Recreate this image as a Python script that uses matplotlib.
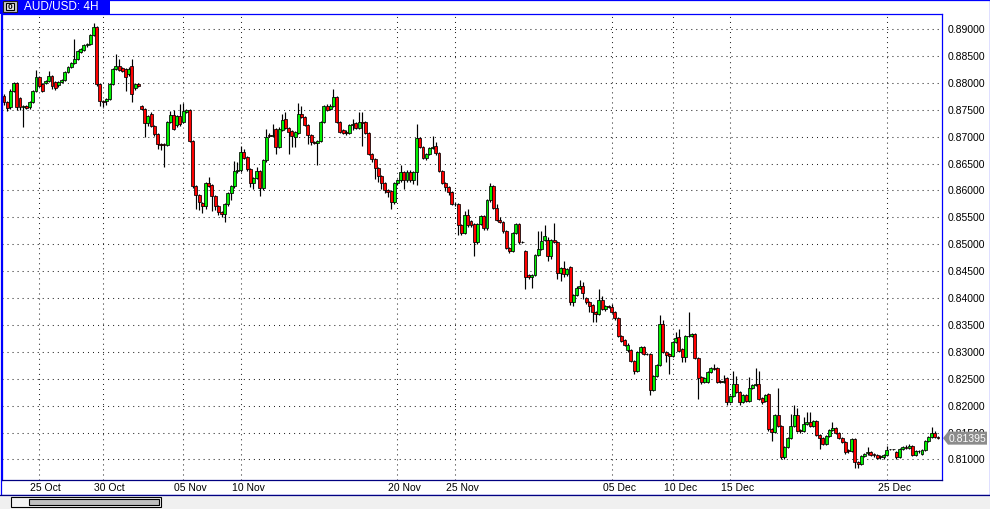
import matplotlib
matplotlib.use('Agg')
import matplotlib.pyplot as plt
from matplotlib.patches import Rectangle, Polygon
import matplotlib.transforms as mtransforms
import numpy as np

plt.rcParams['lines.scale_dashes'] = False
FONT = ['Liberation Sans', 'DejaVu Sans']

# ---- data (prices in units of 0.0001) ----
opens = [
    8775, 8764, 8755, 8785, 8800, 8772, 8755, 8756, 8755, 8764,
    8785, 8811, 8798, 8800, 8803, 8813, 8801, 8796, 8801, 8805,
    8820, 8829, 8837, 8844, 8857, 8861, 8870, 8872, 8889, 8904,
    8798, 8766, 8766, 8770, 8798, 8826, 8831, 8827, 8826, 8816,
    8831, 8790, 8798, 8757, 8751, 8725, 8742, 8720, 8705, 8686,
    8686, 8685, 8727, 8740, 8722, 8738, 8727, 8746, 8749, 8692,
    8608, 8591, 8577, 8571, 8614, 8610, 8590, 8571, 8560, 8556,
    8575, 8595, 8608, 8636, 8638, 8671, 8662, 8640, 8614, 8623,
    8636, 8604, 8656, 8703, 8701, 8714, 8681, 8712, 8733, 8716,
    8710, 8699, 8707, 8742, 8736, 8722, 8703, 8690, 8689, 8692,
    8727, 8757, 8751, 8757, 8774, 8727, 8712, 8708, 8707, 8722,
    8725, 8716, 8727, 8727, 8707, 8668, 8658, 8642, 8627, 8614,
    8601, 8599, 8578, 8614, 8619, 8634, 8619, 8634, 8619, 8634,
    8697, 8681, 8660, 8668, 8679, 8682, 8669, 8636, 8614, 8606,
    8597, 8575, 8575, 8536, 8521, 8554, 8543, 8537, 8504, 8537,
    8552, 8530, 8582, 8608, 8567, 8545, 8541, 8524, 8493, 8487,
    8521, 8537, 8504, 8487, 8443, 8439, 8443, 8480, 8491, 8508,
    8508, 8478, 8508, 8504, 8446, 8456, 8445, 8458, 8392, 8406,
    8419, 8422, 8400, 8392, 8387, 8374, 8370, 8396, 8380, 8385,
    8383, 8374, 8363, 8329, 8322, 8303, 8303, 8283, 8264, 8300,
    8309, 8296, 8296, 8229, 8255, 8275, 8352, 8300, 8296, 8292,
    8318, 8327, 8305, 8290, 8329, 8330, 8333, 8288, 8253, 8244,
    8244, 8262, 8270, 8270, 8246, 8244, 8251, 8207, 8218, 8240,
    8225, 8207, 8220, 8209, 8233, 8238, 8240, 8214, 8209, 8221,
    8156, 8151, 8182, 8162, 8104, 8123, 8140, 8162, 8182, 8154,
    8153, 8166, 8169, 8162, 8171, 8145, 8140, 8129, 8143, 8154,
    8158, 8149, 8140, 8132, 8117, 8116, 8138, 8095, 8091, 8106,
    8112, 8113, 8110, 8108, 8106, 8104, 8108, 8119, 8119, 8114,
    8104, 8119, 8123, 8121, 8125, 8108, 8116, 8110, 8117, 8134,
    8142, 8149, 8142,
]
highs = [
    8779, 8766, 8788, 8802, 8802, 8774, 8758, 8758, 8766, 8787,
    8824, 8813, 8800, 8805, 8822, 8814, 8803, 8803, 8807, 8822,
    8831, 8839, 8881, 8861, 8865, 8872, 8874, 8891, 8911, 8906,
    8800, 8768, 8771, 8800, 8828, 8854, 8844, 8829, 8827, 8829,
    8844, 8800, 8799, 8759, 8753, 8740, 8746, 8722, 8707, 8688,
    8688, 8729, 8748, 8749, 8740, 8761, 8762, 8751, 8751, 8694,
    8610, 8593, 8579, 8616, 8625, 8612, 8592, 8573, 8562, 8577,
    8597, 8610, 8655, 8653, 8682, 8677, 8664, 8642, 8625, 8643,
    8638, 8658, 8714, 8707, 8723, 8716, 8718, 8742, 8746, 8718,
    8712, 8711, 8762, 8757, 8738, 8724, 8705, 8692, 8694, 8729,
    8759, 8760, 8760, 8788, 8776, 8729, 8714, 8712, 8724, 8733,
    8727, 8746, 8746, 8729, 8709, 8670, 8660, 8644, 8629, 8616,
    8603, 8601, 8616, 8621, 8647, 8636, 8638, 8637, 8636, 8723,
    8699, 8683, 8670, 8681, 8701, 8690, 8671, 8638, 8616, 8608,
    8599, 8578, 8577, 8538, 8562, 8565, 8545, 8539, 8539, 8554,
    8554, 8584, 8614, 8610, 8575, 8550, 8543, 8526, 8495, 8523,
    8539, 8539, 8506, 8489, 8445, 8445, 8482, 8524, 8524, 8536,
    8513, 8510, 8539, 8506, 8458, 8469, 8456, 8460, 8408, 8422,
    8433, 8430, 8402, 8394, 8389, 8376, 8417, 8404, 8387, 8387,
    8389, 8376, 8365, 8331, 8324, 8316, 8305, 8285, 8302, 8311,
    8311, 8298, 8298, 8257, 8277, 8368, 8359, 8302, 8298, 8320,
    8337, 8342, 8307, 8331, 8374, 8335, 8335, 8290, 8255, 8253,
    8264, 8272, 8277, 8272, 8248, 8257, 8253, 8220, 8264, 8255,
    8227, 8222, 8222, 8253, 8240, 8270, 8264, 8216, 8222, 8223,
    8158, 8184, 8233, 8164, 8125, 8142, 8184, 8201, 8195, 8156,
    8179, 8188, 8188, 8173, 8173, 8147, 8142, 8145, 8156, 8169,
    8160, 8151, 8142, 8134, 8119, 8140, 8140, 8097, 8108, 8112,
    8123, 8116, 8112, 8110, 8108, 8110, 8125, 8120, 8120, 8116,
    8121, 8125, 8127, 8129, 8127, 8118, 8118, 8119, 8136, 8144,
    8160, 8152, 8144,
]
lows = [
    8759, 8748, 8751, 8783, 8750, 8749, 8718, 8751, 8751, 8762,
    8783, 8792, 8783, 8798, 8801, 8788, 8787, 8792, 8799, 8803,
    8818, 8827, 8835, 8842, 8855, 8859, 8866, 8870, 8887, 8794,
    8757, 8755, 8759, 8768, 8796, 8824, 8822, 8820, 8785, 8813,
    8764, 8787, 8792, 8749, 8699, 8720, 8718, 8701, 8677, 8675,
    8643, 8683, 8725, 8712, 8718, 8720, 8725, 8744, 8690, 8604,
    8565, 8564, 8558, 8565, 8606, 8562, 8564, 8554, 8550, 8541,
    8571, 8582, 8604, 8632, 8634, 8658, 8636, 8606, 8603, 8621,
    8590, 8601, 8653, 8699, 8699, 8668, 8679, 8710, 8714, 8668,
    8681, 8681, 8705, 8734, 8720, 8686, 8684, 8686, 8647, 8690,
    8725, 8747, 8749, 8755, 8725, 8707, 8705, 8703, 8705, 8712,
    8714, 8714, 8682, 8705, 8666, 8653, 8621, 8616, 8603, 8595,
    8588, 8565, 8575, 8610, 8616, 8603, 8616, 8616, 8612, 8610,
    8679, 8658, 8656, 8666, 8677, 8666, 8634, 8612, 8599, 8591,
    8573, 8571, 8517, 8517, 8519, 8532, 8532, 8478, 8500, 8535,
    8526, 8526, 8578, 8565, 8543, 8539, 8521, 8491, 8483, 8485,
    8519, 8500, 8502, 8417, 8435, 8419, 8441, 8478, 8489, 8506,
    8469, 8472, 8502, 8435, 8432, 8439, 8441, 8387, 8385, 8404,
    8417, 8398, 8389, 8374, 8355, 8355, 8368, 8378, 8376, 8381,
    8372, 8359, 8327, 8318, 8311, 8300, 8281, 8259, 8262, 8298,
    8294, 8294, 8220, 8227, 8253, 8273, 8298, 8281, 8259, 8290,
    8316, 8299, 8281, 8281, 8327, 8327, 8286, 8212, 8240, 8242,
    8242, 8260, 8266, 8242, 8242, 8242, 8201, 8205, 8216, 8223,
    8201, 8205, 8207, 8207, 8231, 8236, 8210, 8203, 8207, 8153,
    8134, 8149, 8160, 8101, 8101, 8121, 8138, 8160, 8151, 8149,
    8151, 8164, 8160, 8160, 8143, 8119, 8127, 8127, 8141, 8152,
    8147, 8138, 8130, 8110, 8112, 8114, 8084, 8084, 8089, 8104,
    8108, 8106, 8104, 8101, 8101, 8101, 8106, 8118, 8118, 8101,
    8103, 8117, 8120, 8119, 8106, 8106, 8112, 8108, 8115, 8132,
    8140, 8140, 8138,
]
closes = [
    8764, 8753, 8785, 8800, 8755, 8755, 8756, 8754, 8764, 8785,
    8811, 8794, 8785, 8803, 8813, 8794, 8790, 8801, 8805, 8820,
    8829, 8837, 8844, 8859, 8863, 8870, 8872, 8889, 8904, 8798,
    8766, 8764, 8769, 8798, 8826, 8831, 8824, 8822, 8811, 8826,
    8779, 8798, 8794, 8751, 8725, 8738, 8720, 8705, 8686, 8685,
    8685, 8727, 8740, 8714, 8738, 8723, 8748, 8749, 8692, 8608,
    8591, 8578, 8571, 8614, 8608, 8590, 8571, 8560, 8556, 8575,
    8595, 8608, 8636, 8638, 8671, 8660, 8640, 8614, 8623, 8636,
    8604, 8656, 8699, 8701, 8703, 8681, 8714, 8731, 8716, 8709,
    8701, 8709, 8742, 8736, 8722, 8703, 8690, 8689, 8692, 8727,
    8757, 8749, 8757, 8774, 8727, 8709, 8707, 8707, 8722, 8723,
    8716, 8727, 8726, 8707, 8668, 8658, 8642, 8627, 8614, 8601,
    8597, 8578, 8614, 8619, 8634, 8619, 8634, 8619, 8634, 8697,
    8681, 8660, 8668, 8679, 8681, 8669, 8636, 8614, 8606, 8597,
    8575, 8574, 8536, 8521, 8554, 8536, 8536, 8504, 8537, 8552,
    8530, 8582, 8608, 8567, 8545, 8541, 8524, 8493, 8487, 8521,
    8537, 8504, 8505, 8439, 8439, 8443, 8480, 8491, 8506, 8515,
    8478, 8508, 8504, 8446, 8456, 8445, 8454, 8392, 8406, 8419,
    8422, 8409, 8392, 8385, 8374, 8370, 8396, 8380, 8385, 8383,
    8374, 8363, 8329, 8320, 8313, 8313, 8283, 8264, 8300, 8309,
    8296, 8296, 8229, 8255, 8275, 8352, 8300, 8294, 8292, 8318,
    8326, 8301, 8290, 8329, 8330, 8333, 8288, 8251, 8244, 8251,
    8262, 8270, 8268, 8244, 8244, 8246, 8207, 8218, 8240, 8225,
    8207, 8220, 8209, 8233, 8238, 8240, 8212, 8207, 8220, 8156,
    8151, 8182, 8162, 8104, 8123, 8140, 8162, 8182, 8153, 8153,
    8166, 8169, 8162, 8171, 8145, 8140, 8129, 8143, 8154, 8158,
    8149, 8140, 8132, 8114, 8116, 8138, 8095, 8091, 8106, 8110,
    8113, 8108, 8108, 8103, 8104, 8108, 8117, 8119, 8119, 8104,
    8119, 8123, 8121, 8125, 8108, 8116, 8115, 8117, 8134, 8142,
    8149, 8142, 8139.5,
]
PRICE_UNIT = 10000.0

price_ticks = [0.810, 0.815, 0.820, 0.825, 0.830, 0.835, 0.840, 0.845, 0.850,
               0.855, 0.860, 0.865, 0.870, 0.875, 0.880, 0.885, 0.890]
price_tick_labels = ['0.81000', '0.81500', '0.82000', '0.82500', '0.83000',
                     '0.83500', '0.84000', '0.84500', '0.85000', '0.85500',
                     '0.86000', '0.86500', '0.87000', '0.87500', '0.88000',
                     '0.88500', '0.89000']
date_labels = ['25 Oct', '30 Oct', '05 Nov', '10 Nov', '20 Nov', '25 Nov',
               '05 Dec', '10 Dec', '15 Dec', '25 Dec']
date_bar_index = [11, 31, 56, 74, 123, 141, 190, 209, 227, 276]
last_price = 0.81395
title_text = 'AUD/USD: 4H'

# ---- style ----
BLUE = '#0000ff'
NAVY = '#000080'
UP = '#00f000'
DOWN = '#ff0000'

o = np.array(opens) / PRICE_UNIT
h = np.array(highs) / PRICE_UNIT
l = np.array(lows) / PRICE_UNIT
c = np.array(closes) / PRICE_UNIT
n = len(o)
idx = np.arange(n)

W, H = 990, 510
fig = plt.figure(figsize=(W / 100, H / 100), dpi=100)
fig.patch.set_facecolor('white')

bg = fig.add_axes([0, 0, 1, 1])
bg.set_xlim(0, W)
bg.set_ylim(H, 0)
bg.axis('off')

PL, PR, PT, PB = 2, 942, 15, 481          # plot box in pixels
X0, X1 = 4, 938                           # first / last candle centre
ax = fig.add_axes([PL / W, 1 - PB / H, (PR - PL) / W, (PB - PT) / H])
ax.patch.set_alpha(0)
s = (X1 - X0) / (n - 1)
ax.set_xlim((PL - X0) / s, (PR - X0) / s)
ppx = 0.005 / 26.9                        # price per pixel
ax.set_ylim(0.89 - (PB - 30) * ppx, 0.89 + (30 - PT) * ppx)
ax.set_xticks([])
ax.set_yticks([])
for side in ['top', 'right', 'left']:
    ax.spines[side].set_color(BLUE)
    ax.spines[side].set_linewidth(0.9)
ax.spines['bottom'].set_color(NAVY)
ax.spines['bottom'].set_linewidth(0.9)

# dotted grid
dots = (0, (0.72, 2.9))
ax.hlines(price_ticks, ax.get_xlim()[0], ax.get_xlim()[1], colors='#202020',
          linestyles=dots, linewidth=0.75, zorder=1)
ax.vlines(date_bar_index, ax.get_ylim()[0], ax.get_ylim()[1], colors='#202020',
          linestyles=dots, linewidth=0.75, zorder=1)

# candles
up = c >= o
ax.vlines(idx, l, h, colors='black', linewidth=0.85, zorder=2)
ax.bar(idx, np.abs(c - o), bottom=np.minimum(o, c), width=0.92,
       color=np.where(up, UP, DOWN), edgecolor='black', linewidth=0.55,
       zorder=3)

# price labels
blend_y = mtransforms.blended_transform_factory(ax.transAxes, ax.transData)
xlab = 1 + (948 - PR) / (PR - PL)
for p, t in zip(price_ticks, price_tick_labels):
    ax.text(xlab, p, t, transform=blend_y, ha='left', va='center',
            fontsize=7.5, family=FONT, color='black', clip_on=False)

# date labels
blend_x = mtransforms.blended_transform_factory(ax.transData, ax.transAxes)
ylab = -(488 - PB) / (PB - PT)
for i, t in zip(date_bar_index, date_labels):
    ax.text(i - 9 / s, ylab, t, transform=blend_x, ha='left', va='center',
            fontsize=7.5, family=FONT, color='black', clip_on=False)

# window chrome
bg.add_patch(Rectangle((0.5, 0.5), W - 1, 495, fill=False, ec=BLUE, lw=0.9))
bg.add_patch(Rectangle((0, 496), W, 14, fc='#f0f0f0', ec='none'))
bg.plot([0, W], [495.5, 495.5], color=NAVY, lw=0.9)
bg.add_patch(Rectangle((10.5, 497.5), 150, 10, fc='#f4f4f4', ec='black', lw=0.8))
bg.add_patch(Rectangle((28.5, 499.5), 130, 6, fc='#c0c0c0', ec='black', lw=0.8))

# title tab
bg.add_patch(Rectangle((0, 0), 110, 15, fc=BLUE, ec='none'))
bg.add_patch(Rectangle((2.5, 1.5), 14, 11, fc='#c8c8c8', ec='#202020', lw=0.8))
bg.add_patch(Rectangle((5.5, 3.5), 8, 7, fc='#e8e8e8', ec='black', lw=0.8))
bg.text(9.5, 7.2, '0', ha='center', va='center', fontsize=6, family=FONT,
        fontweight='bold', color='black')
bg.text(24, 7.5, title_text, ha='left', va='center', fontsize=8.5,
        family=FONT, color='white')

# current price tag, on an overlay above the price labels
top = fig.add_axes([0, 0, 1, 1])
top.set_xlim(0, W)
top.set_ylim(H, 0)
top.axis('off')
top.patch.set_alpha(0)
fig.canvas.draw()
ypix = H - ax.transData.transform((0, last_price))[1]
top.add_patch(Polygon([(943, ypix), (948, ypix - 6.5), (987, ypix - 6.5),
                       (987, ypix + 6.5), (948, ypix + 6.5)], closed=True,
                      fc='#8c8c8c', ec='none', zorder=5))
top.text(949, ypix, '%.5f' % last_price, ha='left', va='center', fontsize=7.5,
         family=FONT, color='white', zorder=6)

fig.savefig('out.png', dpi=100)
